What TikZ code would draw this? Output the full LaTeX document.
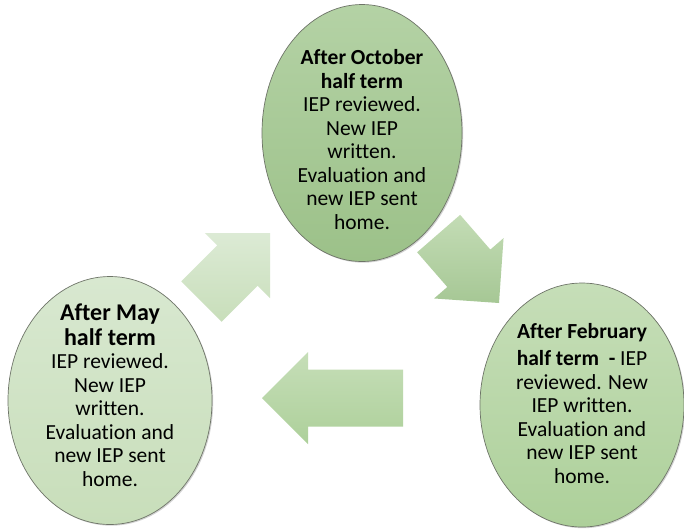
\documentclass[tikz,border=0pt]{standalone}
\usepackage{fontspec}
\setmainfont{Carlito}[Ligatures=NoCommon]
\usetikzlibrary{shapes.geometric, shadows}

\definecolor{octtop}{HTML}{B4D2A5}
\definecolor{octbot}{HTML}{9CC189}
\definecolor{maytop}{HTML}{D8E8D0}
\definecolor{maybot}{HTML}{C8DEBA}
\definecolor{febtop}{HTML}{C6DEB8}
\definecolor{febbot}{HTML}{ADD09A}
\definecolor{edge}{HTML}{6E7468}

\tikzset{
  term/.style={ellipse, draw=edge, line width=0.7pt, inner sep=0pt,
    drop shadow={shadow xshift=1.2pt, shadow yshift=-1.2pt, opacity=0.35}},
  termtext/.style={inner sep=0pt, align=center, font=\fontsize{21.5}{23.5}\selectfont},
  flow/.style={draw=none},
}
\newcommand\headline[1]{\textbf{#1}}
\newcommand\bigheadline[1]{{\fontsize{24}{26}\selectfont\bfseries #1}}

\begin{document}
\begin{tikzpicture}[x=1pt, y=-1pt]
    \fill[white] (0,0) rectangle (684,531);
    \useasboundingbox (0,0) rectangle (684,531);

    % the three review points
    \node[term, top color=octtop, bottom color=octbot,
          minimum width=200, minimum height=257] (oct) at (362,133) {};
    \node[term, top color=febtop, bottom color=febbot,
          minimum width=204, minimum height=244] (feb) at (582,405) {};
    \node[term, top color=maytop, bottom color=maybot,
          minimum width=204, minimum height=248] (may) at (110,400.5) {};

    \node[termtext] (octtext) at ([yshift=-6.5pt]oct.center)
        {\headline{After October}\\ \headline{half term}\\ IEP reviewed.\\ New IEP\\
         written.\\ Evaluation and\\ new IEP sent\\ home.};
    \node[termtext] (febtext) at ([yshift=1.5pt]feb.center)
        {\headline{After February}\\[4pt] \headline{half term\ \ -} IEP\\ reviewed. New\\
         IEP written.\\ Evaluation and\\ new IEP sent\\ home.};
    \node[termtext] (maytext) at ([yshift=5.5pt]may.center)
        {\bigheadline{After May}\\[1pt] \bigheadline{half term}\\ IEP reviewed.\\ New IEP\\
         written.\\ Evaluation and\\ new IEP sent\\ home.};

    % block arrows between them
    \shade[flow, top color=maytop!90!white, bottom color=maybot, shift={(270,233)}, rotate=45]
        (0,0) -- (-46,46) -- (-46,28.5) -- (-97,28.5) -- (-97,-28.5) -- (-46,-28.5) -- (-46,-46) -- cycle;
    \shade[flow, top color=febtop!85!octtop, bottom color=octbot!90!white, shift={(499,303)}, rotate=-49]
        (0,0) -- (-46,46) -- (-46,28.5) -- (-92,28.5) -- (-92,-28.5) -- (-46,-28.5) -- (-46,-46) -- cycle;
    \shade[flow, top color=febtop, bottom color=febbot, shift={(262,398)}]
        (0,0) -- (46,-46) -- (46,-28.5) -- (141,-28.5) -- (141,28.5) -- (46,28.5) -- (46,46) -- cycle;
\end{tikzpicture}
\end{document}
